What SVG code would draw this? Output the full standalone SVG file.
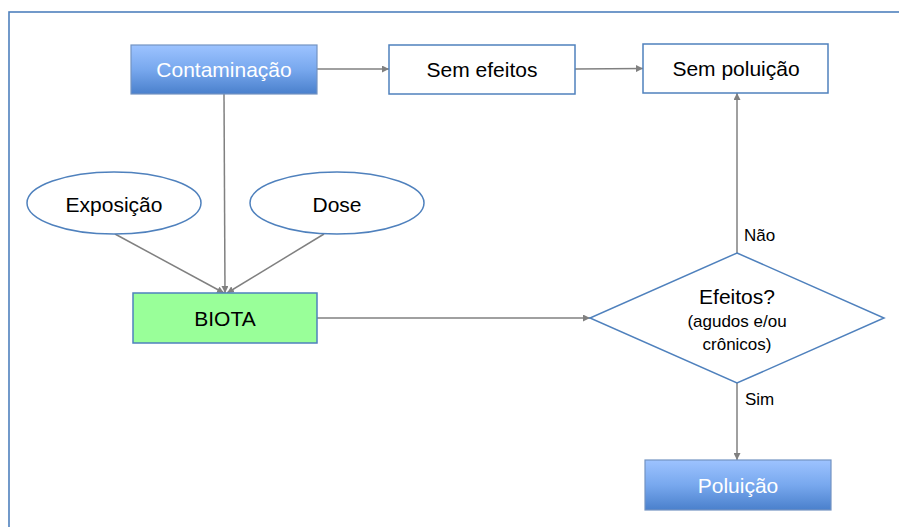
<svg xmlns="http://www.w3.org/2000/svg" width="899" height="527" viewBox="0 0 899 527">
  <defs>
    <linearGradient id="blueFill" x1="0" y1="0" x2="0" y2="1">
      <stop offset="0" stop-color="#9dc3ff"/>
      <stop offset="0.5" stop-color="#78a8ee"/>
      <stop offset="1" stop-color="#4a80cc"/>
    </linearGradient>
    <marker id="arrow" viewBox="0 0 10 10" refX="10" refY="5" markerWidth="7" markerHeight="7" markerUnits="userSpaceOnUse" orient="auto">
      <path d="M0,0 L10,5 L0,10 z" fill="#808080"/>
    </marker>
  </defs>
  <style>
    text { font-family: "Liberation Sans", Arial, sans-serif; text-anchor: middle; fill: #000; }
    .box { fill: #fff; stroke: #4f81bd; stroke-width: 1.5; }
    .blue { fill: url(#blueFill); stroke: #7393c2; stroke-width: 1.2; }
    .bio { fill: #99ff99; stroke: #4f81bd; stroke-width: 1.5; }
    .main { font-size: 21px; }
    .white { fill: #ffffff; }
    .small { font-size: 17px; }
    .lbl { font-size: 17px; text-anchor: start; }
    .conn line { stroke: #808080; stroke-width: 1.5; marker-end: url(#arrow); }
  </style>

  <rect width="899" height="527" fill="#ffffff"/>
  <!-- outer frame -->
  <rect x="9" y="12" width="1000" height="1000" fill="none" stroke="#4f81bd" stroke-width="1.6"/>

  <g class="conn">
    <line x1="317" y1="69" x2="389" y2="69"/>
    <line x1="575" y1="69" x2="643" y2="68.5"/>
    <line x1="224" y1="94" x2="225" y2="293"/>
    <line x1="115" y1="234" x2="224" y2="293"/>
    <line x1="324" y1="234" x2="227" y2="293"/>
    <line x1="317" y1="318" x2="590" y2="318"/>
    <line x1="737" y1="253" x2="737" y2="93"/>
    <line x1="737" y1="383" x2="737" y2="460"/>
  </g>

  <g id="contaminacao">
    <rect class="blue" x="131" y="45" width="186" height="49"/>
    <text class="main white" x="224" y="77">Contaminação</text>
  </g>
  <g id="sem-efeitos">
    <rect class="box" x="389" y="45" width="186" height="49"/>
    <text class="main" x="482" y="77">Sem efeitos</text>
  </g>
  <g id="sem-poluicao">
    <rect class="box" x="643" y="44" width="185" height="49"/>
    <text class="main" x="736" y="76">Sem poluição</text>
  </g>
  <g id="exposicao">
    <ellipse cx="114" cy="203" rx="87" ry="31" fill="#fff" stroke="#4f81bd" stroke-width="1.5"/>
    <text class="main" x="114" y="212">Exposição</text>
  </g>
  <g id="dose">
    <ellipse cx="337" cy="203" rx="87" ry="31" fill="#fff" stroke="#4f81bd" stroke-width="1.5"/>
    <text class="main" x="337" y="212">Dose</text>
  </g>
  <g id="biota">
    <rect class="bio" x="133" y="293" width="184" height="50"/>
    <text class="main" x="225" y="326">BIOTA</text>
  </g>
  <g id="efeitos">
    <polygon points="737,253 884,318 737,383 590,318" fill="#fff" stroke="#4f81bd" stroke-width="1.5"/>
    <text class="main" x="737" y="304">Efeitos?</text>
    <text class="small" x="737" y="327">(agudos e/ou</text>
    <text class="small" x="737" y="350">crônicos)</text>
  </g>
  <g id="poluicao">
    <rect class="blue" x="645" y="460" width="186" height="50"/>
    <text class="main white" x="738" y="493">Poluição</text>
  </g>

  <g id="labels">
    <text class="lbl" x="744" y="241">Não</text>
    <text class="lbl" x="745" y="405">Sim</text>
  </g>
</svg>
